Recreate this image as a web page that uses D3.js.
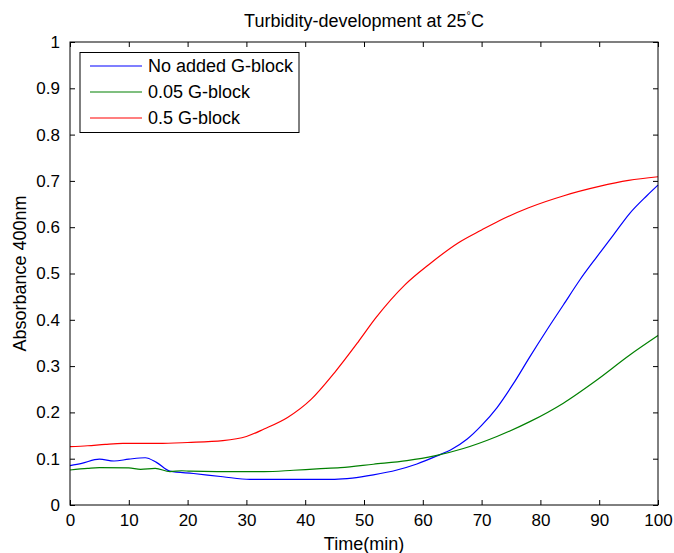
<!DOCTYPE html>
<html>
<head>
<meta charset="utf-8">
<script src="https://cdn.jsdelivr.net/npm/d3@7"></script>
<style>
  html, body { margin: 0; padding: 0; background: #fff; }
  svg { display: block; }
  text { font-family: "Liberation Sans", Arial, sans-serif; fill: #000; }
</style>
</head>
<body>
<svg id="chart" width="674" height="553"></svg>
<script>
// Turbidity measurements (absorbance at 400 nm) over time
const timeNoAdded = [0, 2, 5, 7.5, 10, 12.8, 14.7, 17, 21, 26, 30.6, 45, 48, 51.6, 55.6, 59, 62.4, 65, 67.5, 70, 72.6, 75.4, 78.2, 81.1, 83.9, 86.7, 89.6, 92.4, 95.2, 98.1, 100];
const absNoAdded  = [0.085, 0.090, 0.099, 0.095, 0.099, 0.102, 0.092, 0.073, 0.068, 0.061, 0.0555, 0.0555, 0.058, 0.065, 0.0756, 0.0886, 0.106, 0.121, 0.142, 0.172, 0.210, 0.262, 0.320, 0.378, 0.432, 0.486, 0.536, 0.583, 0.630, 0.668, 0.691];

const timeLow = [0, 3, 5, 10, 12, 14.5, 17, 19, 20.4, 25, 33, 38, 42, 46, 51.6, 57.3, 62, 66.9, 72.6, 78.2, 83.9, 89.6, 95.2, 100];
const absLow  = [0.0756, 0.079, 0.0806, 0.080, 0.077, 0.079, 0.072, 0.074, 0.073, 0.072, 0.072, 0.075, 0.078, 0.0806, 0.088, 0.0957, 0.106, 0.122, 0.148, 0.180, 0.220, 0.270, 0.324, 0.366];

const timeHigh = [0, 3, 6, 9, 15, 20, 26, 30, 33, 37, 41, 45, 49, 52, 57, 61, 66, 70, 73, 78, 84, 90, 95, 100];
const absHigh  = [0.126, 0.128, 0.131, 0.133, 0.133, 0.135, 0.139, 0.148, 0.164, 0.189, 0.228, 0.286, 0.352, 0.404, 0.476, 0.519, 0.566, 0.594, 0.614, 0.642, 0.668, 0.688, 0.701, 0.709];

const seriesNames  = ["No added G-block", "0.05 G-block", "0.5 G-block"];
const seriesColors = ["#0000ff", "#008000", "#ff0000"];

const xTicks = [0, 10, 20, 30, 40, 50, 60, 70, 80, 90, 100];
const yTicks = [0, 0.1, 0.2, 0.3, 0.4, 0.5, 0.6, 0.7, 0.8, 0.9, 1];

const series = [
  { name: seriesNames[0], color: seriesColors[0], t: timeNoAdded, v: absNoAdded },
  { name: seriesNames[1], color: seriesColors[1], t: timeLow,     v: absLow },
  { name: seriesNames[2], color: seriesColors[2], t: timeHigh,    v: absHigh }
];

const svg = d3.select("#chart");
const plot = { left: 70, right: 658, top: 42, bottom: 505 };

const x = d3.scaleLinear().domain([0, 100]).range([plot.left, plot.right]);
const y = d3.scaleLinear().domain([0, 1]).range([plot.bottom, plot.top]);

const fmt = d => (d === 0 || d === 1) ? String(d) : String(+d.toFixed(1));
const tickLen = 5;
const tickFont = 17;
const labelFont = 18;

// Bottom axis with inward ticks
svg.append("g")
  .attr("transform", `translate(0,${plot.bottom})`)
  .call(d3.axisBottom(x).tickValues(xTicks).tickSizeInner(-tickLen).tickSizeOuter(0).tickPadding(9).tickFormat(fmt))
  .call(g => g.select(".domain").remove())
  .call(g => g.selectAll("text").attr("font-size", tickFont).attr("font-family", null));

// Top axis ticks (no labels)
svg.append("g")
  .attr("transform", `translate(0,${plot.top})`)
  .call(d3.axisTop(x).tickValues(xTicks).tickSizeInner(-tickLen).tickSizeOuter(0).tickFormat(""))
  .call(g => g.select(".domain").remove());

// Left axis with inward ticks
svg.append("g")
  .attr("transform", `translate(${plot.left},0)`)
  .call(d3.axisLeft(y).tickValues(yTicks).tickSizeInner(-tickLen).tickSizeOuter(0).tickPadding(10).tickFormat(fmt))
  .call(g => g.select(".domain").remove())
  .call(g => g.selectAll("text").attr("font-size", tickFont).attr("font-family", null));

// Right axis ticks (no labels)
svg.append("g")
  .attr("transform", `translate(${plot.right},0)`)
  .call(d3.axisRight(y).tickValues(yTicks).tickSizeInner(-tickLen).tickSizeOuter(0).tickFormat(""))
  .call(g => g.select(".domain").remove());

// Data lines
const line = d3.line()
  .x(d => x(d[0]))
  .y(d => y(d[1]))
  .curve(d3.curveMonotoneX);

const lines = svg.append("g");
series.forEach(s => {
  const pts = s.t.map((t, i) => [t, s.v[i]]);
  lines.append("path")
    .datum(pts)
    .attr("fill", "none")
    .attr("stroke", s.color)
    .attr("stroke-width", 1.2)
    .attr("d", line);
});

// Plot frame
svg.append("rect")
  .attr("x", plot.left).attr("y", plot.top)
  .attr("width", plot.right - plot.left).attr("height", plot.bottom - plot.top)
  .attr("fill", "none").attr("stroke", "#000").attr("stroke-width", 1);

// Legend
const legend = svg.append("g");
legend.append("rect")
  .attr("x", 80).attr("y", 52.5).attr("width", 219).attr("height", 80)
  .attr("fill", "#fff").attr("stroke", "#000").attr("stroke-width", 1);
series.forEach((s, i) => {
  const ly = 66 + i * 26;
  legend.append("line")
    .attr("x1", 90).attr("x2", 142).attr("y1", ly).attr("y2", ly)
    .attr("stroke", s.color).attr("stroke-width", 1.2);
  legend.append("text")
    .attr("x", 148).attr("y", ly).attr("dy", "0.35em")
    .attr("font-size", labelFont)
    .text(s.name);
});

// Title
const title = svg.append("text")
  .attr("x", (plot.left + plot.right) / 2).attr("y", 27)
  .attr("text-anchor", "middle").attr("font-size", labelFont);
title.append("tspan").text("Turbidity-development at 25");
title.append("tspan").attr("font-size", 11).attr("dy", -8).text("°");
title.append("tspan").attr("dy", 8).text("C");

// Axis labels
svg.append("text")
  .attr("x", (plot.left + plot.right) / 2).attr("y", 550)
  .attr("text-anchor", "middle").attr("font-size", labelFont)
  .text("Time(min)");

svg.append("text")
  .attr("transform", `translate(26,${(plot.top + plot.bottom) / 2}) rotate(-90)`)
  .attr("text-anchor", "middle").attr("font-size", labelFont)
  .text("Absorbance 400nm");
</script>
</body>
</html>
